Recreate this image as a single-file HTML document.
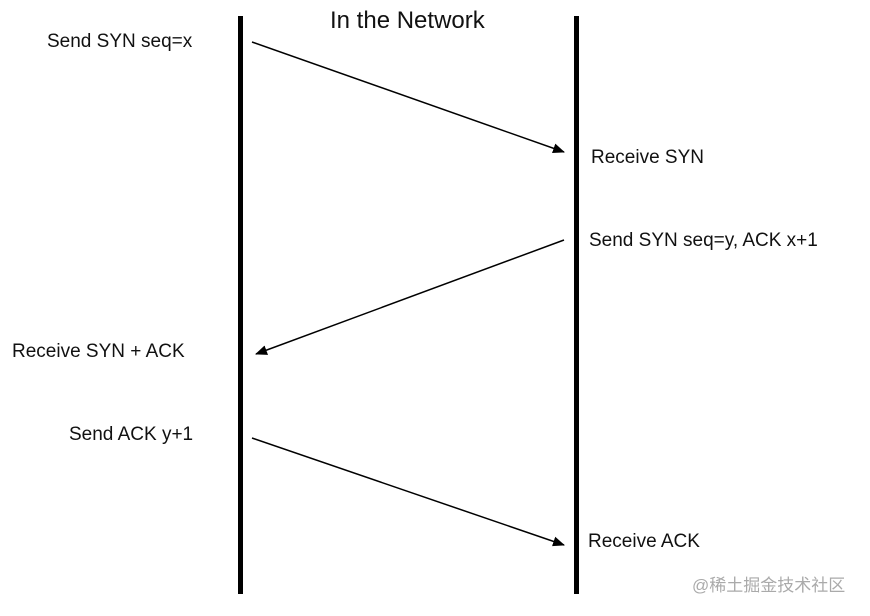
<!DOCTYPE html>
<html><head><style>
html,body{margin:0;padding:0;background:#fff;}
</style></head><body>
<svg width="870" height="616" xmlns="http://www.w3.org/2000/svg" style="display:block">
<defs><marker id="a" markerWidth="12" markerHeight="10" refX="11" refY="5" orient="auto" markerUnits="userSpaceOnUse"><path d="M0,0 L12,5 L0,10 Z" fill="#000"/></marker></defs>
<rect x="238" y="16" width="5" height="578" fill="#000"/>
<rect x="574" y="16" width="5" height="578" fill="#000"/>
<g stroke="#000" stroke-width="1.5" fill="none">
<line x1="252" y1="42" x2="564" y2="152" marker-end="url(#a)"/>
<line x1="564" y1="240" x2="256" y2="354" marker-end="url(#a)"/>
<line x1="252" y1="438" x2="564" y2="545" marker-end="url(#a)"/>
</g>
<g font-family="Liberation Sans, sans-serif" font-size="19" fill="#111">
<text x="330" y="28" font-size="24">In the Network</text>
<text x="47" y="47">Send SYN seq=x</text>
<text x="591" y="163">Receive SYN</text>
<text x="589" y="246">Send SYN seq=y, ACK x+1</text>
<text x="12" y="357">Receive SYN + ACK</text>
<text x="69" y="440">Send ACK y+1</text>
<text x="588" y="547">Receive ACK</text>
</g>
<text x="692" y="591" font-family="Liberation Sans, Noto Sans CJK SC, sans-serif" font-size="17" fill="#aaa">@稀土掘金技术社区</text>
</svg>
</body></html>
